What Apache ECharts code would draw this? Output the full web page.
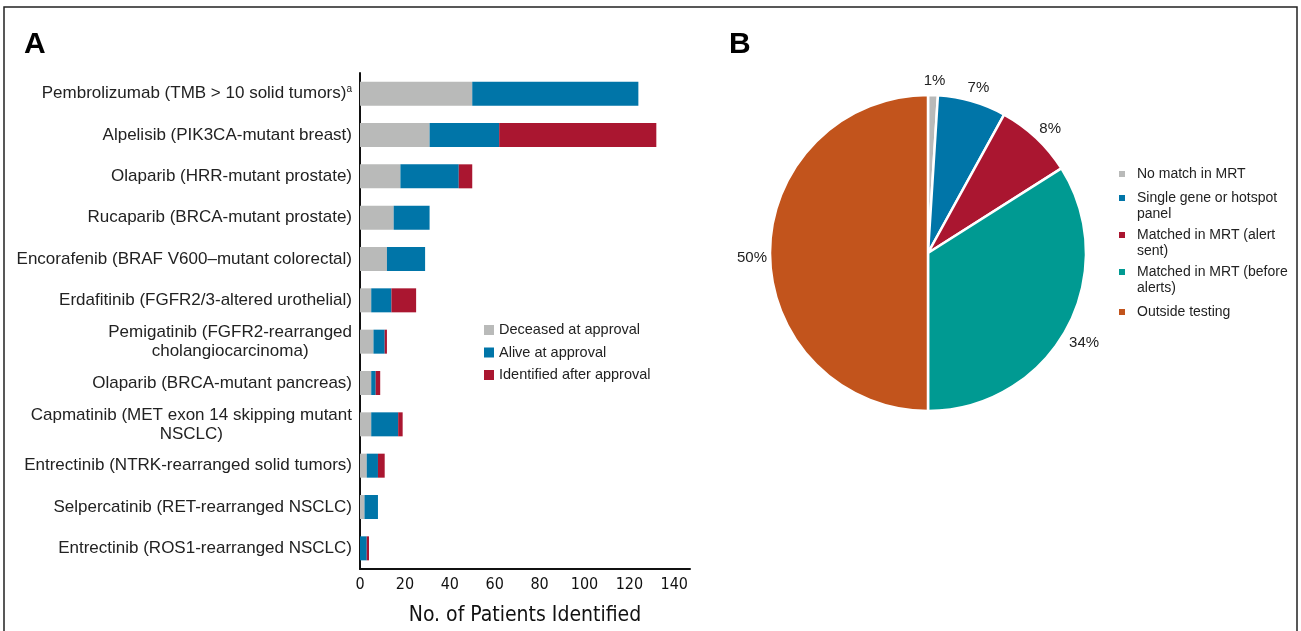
<!DOCTYPE html>
<html>
<head>
<meta charset="utf-8">
<script src="https://cdn.jsdelivr.net/npm/echarts@6/dist/echarts.min.js"></script>
<style>
  html, body { margin: 0; padding: 0; background: #fff; }
  #main { width: 1301px; height: 631px; }
</style>
</head>
<body>
<div id="main"></div>
<script>
  // panel A - bars, top row first
  var drugs = [
    'Pembrolizumab (TMB > 10 solid tumors)',
    'Alpelisib (PIK3CA-mutant breast)',
    'Olaparib (HRR-mutant prostate)',
    'Rucaparib (BRCA-mutant prostate)',
    'Encorafenib (BRAF V600–mutant colorectal)',
    'Erdafitinib (FGFR2/3-altered urothelial)',
    'Pemigatinib (FGFR2-rearranged\ncholangiocarcinoma)',
    'Olaparib (BRCA-mutant pancreas)',
    'Capmatinib (MET exon 14 skipping mutant\nNSCLC)',
    'Entrectinib (NTRK-rearranged solid tumors)',
    'Selpercatinib (RET-rearranged NSCLC)',
    'Entrectinib (ROS1-rearranged NSCLC)'
  ];
  var deceased   = [50, 31, 18, 15, 12, 5, 6, 5, 5, 3, 2, 0];
  var alive      = [74, 31, 26, 16, 17, 9, 5, 2, 12, 5, 6, 3];
  var identified = [0, 70, 6, 0, 0, 11, 1, 2, 2, 3, 0, 1];
  var xTicks = [0, 20, 40, 60, 80, 100, 120, 140];

  // panel B - pie
  var pieNames = [
    'No match in MRT',
    'Single gene or hotspot\npanel',
    'Matched in MRT (alert\nsent)',
    'Matched in MRT (before\nalerts)',
    'Outside testing'
  ];
  var pieValues = [1, 7, 8, 34, 50];
  var pieColors = ['#b9bab9', '#0075a8', '#aa1630', '#009a92', '#c2541c'];

  var font = '"Liberation Sans", Arial, sans-serif';
  var narrow = '"DejaVu Sans Condensed", "Liberation Sans", sans-serif';

  // small square legend icons; two-line items get the square next to the first line
  var iconOneLine = 'path://M0,8L6,8L6,14L0,14Z M0,0L0,0 M13,22L13,22';
  var iconTwoLine = 'path://M0,0L6,0L6,6L0,6Z M13,22L13,22';

  var pieData = pieNames.map(function (n, i) {
    return { name: n, value: pieValues[i], itemStyle: { color: pieColors[i] } };
  });

  var myChart = echarts.init(document.getElementById('main'));
  var option = {
    animation: false,
    backgroundColor: '#fff',
    title: [
      { text: 'A', left: 19, top: 25, textStyle: { fontFamily: font, fontSize: 30, fontWeight: 'bold', color: '#000' } },
      { text: 'B', left: 724, top: 25, textStyle: { fontFamily: font, fontSize: 30, fontWeight: 'bold', color: '#000' } }
    ],
    graphic: [
      { type: 'polyline', shape: { points: [[4, 640], [4, 7], [1297, 7], [1297, 640]] },
        style: { stroke: '#222', lineWidth: 1.5, fill: null } }
    ],
    legend: [
      {
        data: ['Deceased at approval', 'Alive at approval', 'Identified after approval'],
        orient: 'vertical',
        left: 484, top: 322, padding: 0,
        itemWidth: 10, itemHeight: 10, itemGap: 6.5,
        icon: 'rect',
        itemStyle: { borderWidth: 0 },
        textStyle: { fontFamily: font, fontSize: 14.5, color: '#222', lineHeight: 16 }
      },
      {
        data: pieNames.map(function (n) {
          return { name: n, icon: n.indexOf('\n') >= 0 ? iconTwoLine : iconOneLine };
        }),
        orient: 'vertical',
        left: 1119, top: 163, padding: 0,
        itemWidth: 13, itemHeight: 22, itemGap: 5,
        itemStyle: { borderWidth: 0 },
        textStyle: { fontFamily: font, fontSize: 14, color: '#222', lineHeight: 16 }
      }
    ],
    grid: { left: 360, top: 73, width: 330, height: 497, containLabel: false },
    xAxis: {
      type: 'value',
      min: 0, max: 147, interval: 20,
      name: 'No. of Patients Identified',
      nameLocation: 'middle',
      nameGap: 36,
      nameTextStyle: { fontFamily: narrow, fontSize: 21, color: '#111' },
      axisLine: { show: true, lineStyle: { color: '#111', width: 2 } },
      axisTick: { show: false },
      splitLine: { show: false },
      axisLabel: {
        fontFamily: narrow, fontSize: 16, color: '#111', margin: 8,
        showMaxLabel: false,
        formatter: function (v) { return xTicks.indexOf(v) >= 0 ? String(v) : ''; }
      }
    },
    yAxis: {
      type: 'category',
      inverse: true,
      data: drugs,
      axisLine: { show: true, lineStyle: { color: '#111', width: 2 } },
      axisTick: { show: false },
      axisLabel: {
        margin: 8,
        fontFamily: font, fontSize: 17, color: '#222',
        formatter: function (v, i) {
          var lines = v.split('\n').map(function (l) { return '{c|' + l + '}'; });
          if (i === 0) lines[0] += '{sup|a}';
          return lines.join('\n');
        },
        rich: {
          c: { align: 'center', fontFamily: font, fontSize: 17, color: '#222', lineHeight: 19 },
          sup: { fontFamily: font, fontSize: 10, color: '#222', verticalAlign: 'top', padding: [0, 0, 8, 0] }
        }
      }
    },
    series: [
      { name: 'Deceased at approval', type: 'bar', stack: 'a', barWidth: 24, data: deceased, itemStyle: { color: '#b9bab9' } },
      { name: 'Alive at approval', type: 'bar', stack: 'a', barWidth: 24, data: alive, itemStyle: { color: '#0075a8' } },
      { name: 'Identified after approval', type: 'bar', stack: 'a', barWidth: 24, data: identified, itemStyle: { color: '#aa1630' } },
      {
        name: 'pie', type: 'pie',
        center: [928, 253], radius: 158,
        startAngle: 90, clockwise: true,
        itemStyle: { borderColor: '#fff', borderWidth: 2.5 },
        label: { show: false },
        labelLine: { show: false },
        data: pieData
      },
      {
        // transparent ring just for placing the percent labels
        name: 'pieLabels', type: 'pie',
        center: [929, 258], radius: [160, 188],
        startAngle: 90, clockwise: true, silent: true,
        itemStyle: { color: 'rgba(0,0,0,0)' },
        label: {
          show: true, position: 'inside', rotate: 0,
          fontFamily: font, fontSize: 15, color: '#222',
          formatter: '{c}%'
        },
        labelLine: { show: false },
        data: pieNames.map(function (n, i) { return { name: n, value: pieValues[i] }; })
      }
    ]
  };
  myChart.setOption(option);
</script>
</body>
</html>
